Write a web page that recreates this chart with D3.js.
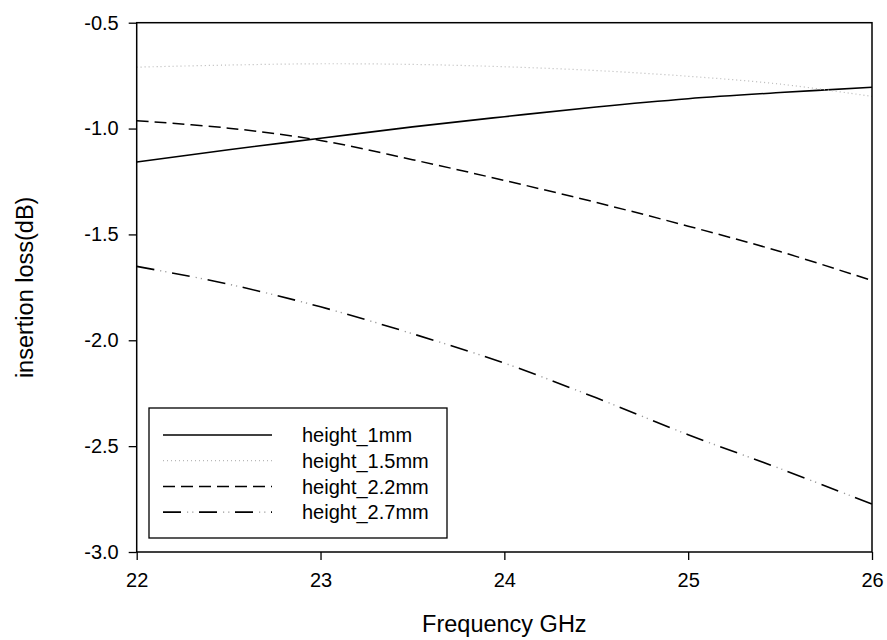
<!DOCTYPE html>
<html>
<head>
<meta charset="utf-8">
<script src="https://cdn.jsdelivr.net/npm/d3@7"></script>
<style>
    body { margin: 0; background: #fff; }
    svg { display: block; font-family: Arial, "Liberation Sans", sans-serif; }
</style>
</head>
<body>
<div id="chart"></div>
<script>
// frequency points (GHz)
const freq = [22, 22.5, 23, 23.5, 24, 24.5, 25, 25.5, 26];

// insertion loss (dB)
const h1mm   = [-1.158, -1.100, -1.046, -0.992, -0.944, -0.898, -0.859, -0.830, -0.805];
const h1_5mm = [-0.710, -0.700, -0.694, -0.697, -0.708, -0.726, -0.753, -0.790, -0.848];
const h2_2mm = [-0.963, -0.998, -1.056, -1.147, -1.245, -1.349, -1.461, -1.581, -1.718];
const h2_7mm = [-1.651, -1.735, -1.842, -1.969, -2.108, -2.272, -2.446, -2.606, -2.774];

const seriesNames = ["height_1mm", "height_1.5mm", "height_2.2mm", "height_2.7mm"];
const xTicks = [22, 23, 24, 25, 26];
const yTicks = [-3.0, -2.5, -2.0, -1.5, -1.0, -0.5];

const svgWidth = 887;
const svgHeight = 640;
const margin = { top: 22.7, right: 15, bottom: 88, left: 136.7 };
const width = svgWidth - margin.left - margin.right;
const height = svgHeight - margin.top - margin.bottom;

// line style per series; the last one gets grey dots drawn over the dashes
const styles = [
    { stroke: "#000", dash: null, w: 1.6 },
    { stroke: "#b8b8b8", dash: "1,3", w: 1.2 },
    { stroke: "#000", dash: "12,6", w: 1.5 },
    { stroke: "#000", dash: "18,18", w: 1.6, dots: "0,24,1.2,4,1.2,5.6" }
];

const svg = d3.select("#chart")
    .append("svg")
    .attr("width", svgWidth)
    .attr("height", svgHeight);

const chartGroup = svg.append("g")
    .attr("transform", `translate(${margin.left}, ${margin.top})`);

const xScale = d3.scaleLinear().domain([22, 26]).range([0, width]);
const yScale = d3.scaleLinear().domain([-3.0, -0.5]).range([height, 0]);

const data = [h1mm, h1_5mm, h2_2mm, h2_7mm].map((vals, i) => ({
    name: seriesNames[i],
    style: styles[i],
    values: vals.map((v, j) => ({ x: freq[j], y: v }))
}));

const line = d3.line()
    .x(d => xScale(d.x))
    .y(d => yScale(d.y))
    .curve(d3.curveCatmullRom);

chartGroup.selectAll(".series")
    .data(data)
    .enter().append("path")
    .attr("class", "series")
    .attr("fill", "none")
    .attr("stroke", d => d.style.stroke)
    .attr("stroke-width", d => d.style.w)
    .attr("stroke-dasharray", d => d.style.dash)
    .attr("d", d => line(d.values));

chartGroup.selectAll(".dots")
    .data(data.filter(d => d.style.dots))
    .enter().append("path")
    .attr("class", "dots")
    .attr("fill", "none")
    .attr("stroke", "#9a9a9a")
    .attr("stroke-width", 1.4)
    .attr("stroke-dasharray", d => d.style.dots)
    .attr("d", d => line(d.values));

// frame
chartGroup.append("rect")
    .attr("width", width)
    .attr("height", height)
    .attr("fill", "none")
    .attr("stroke", "#000")
    .attr("stroke-width", 1.5);

const fmt = d3.format(".1f");

const xAxis = d3.axisBottom(xScale)
    .tickValues(xTicks)
    .tickFormat(d3.format("d"))
    .tickSize(8)
    .tickSizeOuter(0)
    .tickPadding(13);

const yAxis = d3.axisLeft(yScale)
    .tickValues(yTicks)
    .tickFormat(d => fmt(d).replace("\u2212", "-"))
    .tickSize(8)
    .tickSizeOuter(0)
    .tickPadding(10);

const gx = chartGroup.append("g")
    .attr("transform", `translate(0, ${height})`)
    .call(xAxis);

const gy = chartGroup.append("g")
    .call(yAxis);

[gx, gy].forEach(g => {
    g.select(".domain").remove();
    g.selectAll("line").attr("stroke", "#000").attr("stroke-width", 1.3);
    g.selectAll("text").attr("font-size", "20px").attr("fill", "#000")
        .style("font-family", "Arial, 'Liberation Sans', sans-serif");
});

// axis titles
svg.append("text")
    .attr("x", margin.left + width / 2)
    .attr("y", 632)
    .attr("text-anchor", "middle")
    .attr("font-size", "23.5px")
    .text("Frequency GHz");

svg.append("text")
    .attr("transform", `translate(33, ${margin.top + height / 2}) rotate(-90)`)
    .attr("text-anchor", "middle")
    .attr("font-size", "23.5px")
    .text("insertion loss(dB)");

// legend
const legend = svg.append("g").attr("transform", "translate(149, 408)");
legend.append("rect")
    .attr("width", 298)
    .attr("height", 130)
    .attr("fill", "#fff")
    .attr("stroke", "#000")
    .attr("stroke-width", 1.3);

const rows = legend.selectAll(".row")
    .data(data)
    .enter().append("g")
    .attr("class", "row")
    .attr("transform", (d, i) => `translate(0, ${27 + i * 25.7})`);

rows.append("line")
    .attr("x1", 14)
    .attr("x2", 123)
    .attr("stroke", d => d.style.stroke)
    .attr("stroke-width", d => d.style.w)
    .attr("stroke-dasharray", d => d.style.dash);

rows.filter(d => d.style.dots).append("line")
    .attr("x1", 14)
    .attr("x2", 123)
    .attr("stroke", "#9a9a9a")
    .attr("stroke-width", 1.4)
    .attr("stroke-dasharray", d => d.style.dots);

rows.append("text")
    .attr("x", 153)
    .attr("dy", "0.36em")
    .attr("font-size", "20px")
    .text(d => d.name);
</script>
</body>
</html>
